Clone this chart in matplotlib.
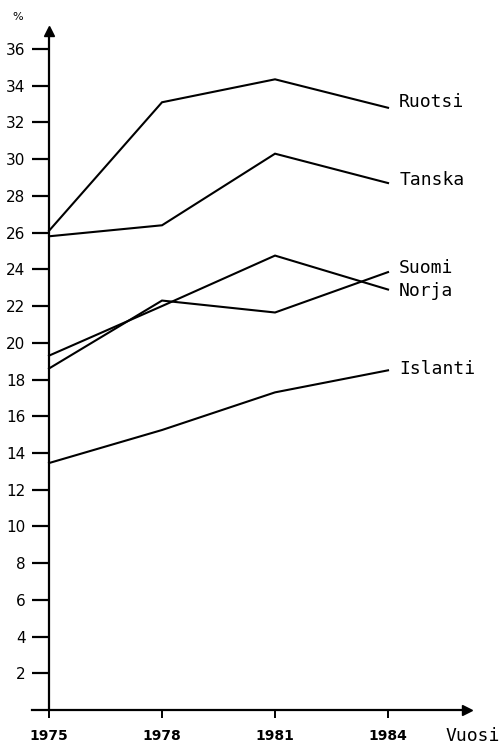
import numpy as np
import matplotlib
matplotlib.use("Agg")
import matplotlib.pyplot as plt

# data
years = [1975, 1978, 1981, 1984]
ruotsi = [26.1, 33.1, 34.35, 32.8]
tanska = [25.8, 26.4, 30.3, 28.7]
norja = [19.3, 22.0, 24.75, 22.9]
suomi = [18.6, 22.3, 21.65, 23.85]
islanti = [13.45, 15.25, 17.3, 18.5]

series = [ruotsi, tanska, suomi, norja, islanti]
names = ["Ruotsi", "Tanska", "Suomi", "Norja", "Islanti"]
label_dy = [4, 2, 3, -1, 1]  # small vertical nudges (points)

yticks = list(range(2, 37, 2))

fig = plt.figure(figsize=(5.03, 7.53), dpi=100)
ax = fig.add_axes([0, 0, 1, 1])
ax.set_xlim(1973.699, 1987.052)
ax.set_ylim(-2.342, 38.67)

for vals in series:
    ax.plot(years, vals, color="black", lw=1.5, solid_joinstyle="miter")

mono = "DejaVu Sans Mono"
for vals, name, dy in zip(series, names, label_dy):
    ax.annotate(name, (years[-1], vals[-1]), xytext=(8, dy), textcoords="offset points",
                ha="left", va="center", fontsize=13, family=mono)

# axes drawn like the original: crossing lines with arrow heads
for s in ["top", "right"]:
    ax.spines[s].set_visible(False)
ax.spines["left"].set_position(("data", 1975))
ax.spines["bottom"].set_position(("data", 0))
ax.spines["left"].set_bounds(0, 36.9)
ax.spines["bottom"].set_bounds(1974.55, 1986.0)
ax.spines["left"].set_linewidth(1.6)
ax.spines["bottom"].set_linewidth(1.6)
ax.plot([1975], [37.0], marker="^", color="black", ms=7, clip_on=False)
ax.plot([1986.1], [0], marker=">", color="black", ms=7, clip_on=False)

ax.set_yticks(yticks)
ax.set_yticklabels([str(v) for v in yticks], fontsize=11)
ax.tick_params(axis="y", direction="out", length=12, width=1.6, pad=5)
ax.set_xticks(years)
ax.set_xticklabels([str(y) for y in years], fontsize=10, fontweight="bold")
ax.tick_params(axis="x", direction="out", length=6, width=1.4, pad=8)

ax.text(0.885, 0.022, "Vuosi", transform=fig.transFigure, fontsize=13, family=mono,
        ha="left", va="center")
ax.text(0.035, 0.978, "%", transform=fig.transFigure, fontsize=8, ha="center", va="center")

fig.savefig("out.png", dpi=100)
